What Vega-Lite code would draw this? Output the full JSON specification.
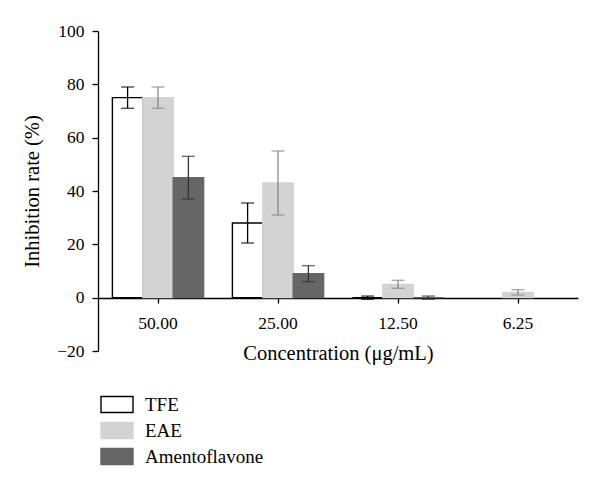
{
  "$schema": "https://vega.github.io/schema/vega-lite/v6.json",
  "width": 480,
  "height": 320,
  "autosize": {"type": "none"},
  "padding": {"left": 98, "top": 31, "right": 22, "bottom": 139},
  "background": "white",
  "config": {
    "view": {"stroke": null},
    "font": "Liberation Serif",
    "axis": {"grid": false, "domainColor": "#000", "tickColor": "#000", "labelColor": "#000", "titleColor": "#000", "labelFont": "Liberation Serif", "titleFont": "Liberation Serif", "titleFontWeight": "normal", "labelFontSize": 17.5, "titleFontSize": 20.5, "domainWidth": 1.3, "tickWidth": 1.3}
  },
  "data": {"values": [
    {"conc": "50.00", "series": "TFE", "mean": 75, "lo": 71, "hi": 79},
    {"conc": "50.00", "series": "EAE", "mean": 75, "lo": 71, "hi": 79},
    {"conc": "50.00", "series": "Amentoflavone", "mean": 45, "lo": 37, "hi": 53},
    {"conc": "25.00", "series": "TFE", "mean": 28, "lo": 20.5, "hi": 35.5},
    {"conc": "25.00", "series": "EAE", "mean": 43, "lo": 31, "hi": 55},
    {"conc": "25.00", "series": "Amentoflavone", "mean": 9, "lo": 6, "hi": 12},
    {"conc": "12.50", "series": "TFE", "mean": 0, "lo": -0.6, "hi": 0.6},
    {"conc": "12.50", "series": "EAE", "mean": 5, "lo": 3.5, "hi": 6.5},
    {"conc": "12.50", "series": "Amentoflavone", "mean": 0, "lo": -0.6, "hi": 0.6},
    {"conc": "6.25", "series": "EAE", "mean": 2, "lo": 1, "hi": 3}
  ]},
  "encoding": {
    "x": {"field": "conc", "type": "nominal", "sort": ["50.00", "25.00", "12.50", "6.25"],
      "scale": {"paddingInner": 0.24, "paddingOuter": 0.12},
      "axis": {"title": "Concentration (μg/mL)", "labelAngle": 0, "offset": -53, "tickSize": 5, "labelPadding": 11, "titlePadding": 12,
        "labelFont": "Liberation Serif", "titleFont": "Liberation Serif", "labelFontSize": 17.5, "titleFontSize": 20.5, "titleFontWeight": "normal"}},
    "xOffset": {"field": "series", "type": "nominal", "sort": ["TFE", "EAE", "Amentoflavone"], "scale": {"paddingInner": 0, "paddingOuter": 0}}
  },
  "layer": [
    {
      "mark": {"type": "bar", "strokeWidth": 1.4},
      "encoding": {
        "y": {"field": "mean", "type": "quantitative",
          "scale": {"domain": [-20, 100], "nice": false},
          "axis": {"title": "Inhibition rate (%)", "values": [-20, 0, 20, 40, 60, 80, 100], "tickSize": 6, "labelPadding": 8, "titlePadding": 14,
            "labelFont": "Liberation Serif", "titleFont": "Liberation Serif", "labelFontSize": 17.5, "titleFontSize": 20.5, "titleFontWeight": "normal"}},
        "fill": {"field": "series", "type": "nominal",
          "scale": {"domain": ["TFE", "EAE", "Amentoflavone"], "range": ["#ffffff", "#d3d3d3", "#666666"]},
          "legend": {"title": null, "orient": "none", "legendX": 2, "legendY": 364, "symbolType": "M-1,-0.5H1V0.5H-1Z", "symbolSize": 1024, "symbolStrokeWidth": 1.4, "labelFontSize": 19, "labelFont": "Liberation Serif", "labelColor": "#000", "labelOffset": 11, "rowPadding": 6, "clipHeight": 19}},
        "stroke": {"field": "series", "type": "nominal",
          "scale": {"domain": ["TFE", "EAE", "Amentoflavone"], "range": ["#000000", "#d3d3d3", "#666666"]},
          "legend": null}
      }
    },
    {
      "mark": {"type": "rule", "strokeWidth": 1.3},
      "encoding": {
        "y": {"field": "lo", "type": "quantitative"},
        "y2": {"field": "hi"},
        "color": {"field": "series", "type": "nominal",
          "scale": {"domain": ["TFE", "EAE", "Amentoflavone"], "range": ["#000000", "#888888", "#333333"]},
          "legend": null}
      }
    },
    {
      "mark": {"type": "tick", "thickness": 1.4, "size": 13},
      "encoding": {
        "y": {"field": "lo", "type": "quantitative"},
        "color": {"field": "series", "type": "nominal", "legend": null}
      }
    },
    {
      "mark": {"type": "tick", "thickness": 1.4, "size": 13},
      "encoding": {
        "y": {"field": "hi", "type": "quantitative"},
        "color": {"field": "series", "type": "nominal", "legend": null}
      }
    }
  ]
}
